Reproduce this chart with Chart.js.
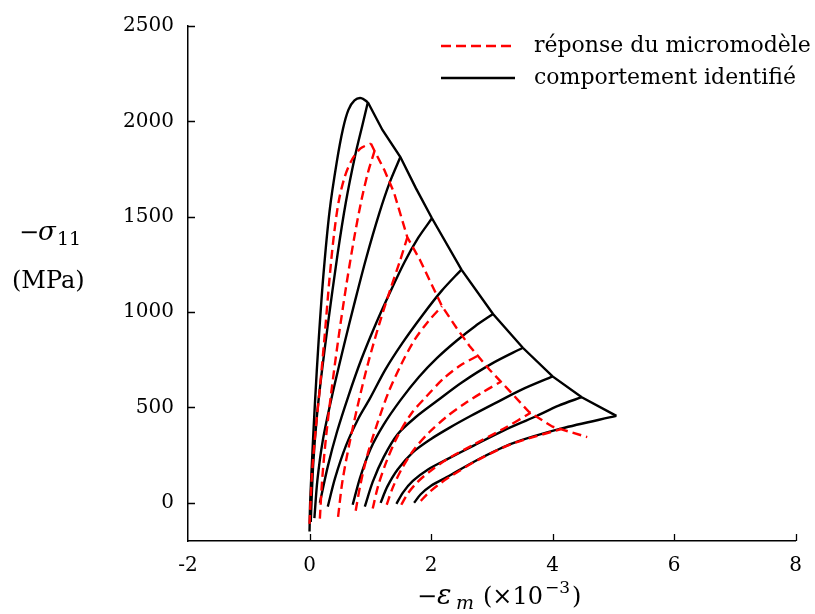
<!DOCTYPE html>
<html>
<head>
<meta charset="utf-8">
<script src="https://cdn.jsdelivr.net/npm/chart.js@4.4.0/dist/chart.umd.min.js"></script>
<style>
  body { margin: 0; background: #fff; }
  #wrap { width: 815px; height: 614px; }
</style>
</head>
<body>
<div id="wrap"><canvas id="chart"></canvas></div>
<script>
// Axis ticks
var xTickVals = [-2, 0, 2, 4, 6, 8];
var yTickVals = [0, 500, 1000, 1500, 2000, 2500];

// comportement identifié (black) : [strain x1e-3, stress MPa]
var idOuter = [[0.0,-150],[0.01,0],[0.05,280],[0.09,528],[0.15,850],[0.23,1200],[0.33,1530],[0.45,1790],[0.55,1960],[0.64,2060],[0.74,2110],[0.85,2122],[0.96,2100]];
var idEnvelope = [[0.96,2100],[1.2,1955],[1.495,1813],[1.75,1650],[2.015,1492],[2.5,1223],[3.02,990],[3.51,813],[4.0,663],[4.48,554],[5.05,456]];
var idCurve1 = [[0.02,-100],[0.06,200],[0.12,450],[0.2,680],[0.3,930],[0.46,1300],[0.6,1580],[0.75,1820],[0.87,1980],[0.96,2100]];
var idCurve2 = [[0.08,-80],[0.13,120],[0.22,330],[0.37,560],[0.57,830],[0.75,1060],[0.93,1280],[1.15,1520],[1.32,1680],[1.495,1813]];
var idCurve3 = [[0.17,0],[0.3,190],[0.45,370],[0.64,560],[0.85,750],[1.08,930],[1.32,1100],[1.56,1260],[1.79,1390],[2.015,1492]];
var idCurve4 = [[0.30,-20],[0.42,130],[0.6,300],[0.8,440],[0.99,545],[1.25,700],[1.53,839],[1.85,980],[2.17,1110],[2.5,1223]];
var idCurve5 = [[0.71,-10],[0.83,130],[1.0,280],[1.22,410],[1.5,540],[1.8,660],[2.1,760],[2.42,850],[2.72,925],[3.02,990]];
var idCurve6 = [[0.91,-20],[1.04,110],[1.22,240],[1.45,360],[1.75,450],[2.1,535],[2.5,630],[3.0,730],[3.51,813]];
var idCurve7 = [[1.17,0],[1.28,85],[1.45,175],[1.7,265],[2.0,335],[2.3,393],[2.65,455],[3.04,520],[3.5,595],[4.0,663]];
var idCurve8 = [[1.43,-5],[1.54,55],[1.7,115],[1.95,175],[2.26,228],[2.7,300],[3.2,380],[3.7,450],[4.1,510],[4.48,554]];
var idCurve9 = [[1.72,0],[1.83,45],[2.0,90],[2.26,135],[2.79,230],[3.34,312],[4.15,390],[5.05,456]];

// réponse du micromodèle (red dashed)
var mmOuter = [[0.0,-110],[0.04,150],[0.1,380],[0.17,600],[0.25,880],[0.33,1180],[0.4,1400],[0.48,1580],[0.58,1710],[0.7,1800],[0.84,1858],[1.01,1884]];
var mmEnvelope = [[1.01,1884],[1.07,1845],[1.23,1746],[1.39,1627],[1.61,1392],[1.82,1272],[2.18,1031],[2.42,917],[2.63,824],[2.96,699],[3.28,591],[3.61,477],[4.0,399],[4.57,345]];
var mmCurve1 = [[0.17,-83],[0.21,130],[0.27,340],[0.35,560],[0.47,850],[0.6,1130],[0.73,1380],[0.85,1580],[0.96,1730],[1.07,1845]];
var mmCurve2 = [[0.47,-73],[0.54,110],[0.65,300],[0.8,520],[0.97,740],[1.15,940],[1.33,1120],[1.48,1260],[1.61,1392]];
var mmCurve3 = [[0.76,-41],[0.84,100],[0.96,260],[1.12,420],[1.3,580],[1.5,720],[1.72,850],[1.95,950],[2.18,1031]];
var mmCurve4 = [[1.04,-30],[1.13,90],[1.27,220],[1.45,350],[1.68,470],[1.93,560],[2.2,650],[2.48,720],[2.77,771]];
var mmCurve5 = [[1.27,-10],[1.37,80],[1.52,180],[1.72,280],[1.97,370],[2.25,450],[2.55,520],[2.85,580],[3.15,635]];
var mmCurve6 = [[1.51,-10],[1.62,50],[1.78,110],[2.0,170],[2.26,228],[2.7,305],[3.2,390],[3.64,472]];
var mmCurve7 = [[1.83,10],[1.95,50],[2.1,90],[2.3,135],[2.79,228],[3.34,310],[4.13,386]];

var idSeries = [idOuter, idEnvelope, idCurve1, idCurve2, idCurve3, idCurve4, idCurve5, idCurve6, idCurve7, idCurve8, idCurve9];
var mmSeries = [mmOuter, mmEnvelope, mmCurve1, mmCurve2, mmCurve3, mmCurve4, mmCurve5, mmCurve6, mmCurve7];

function toPts(arr) {
  return arr.map(function(p) { return {x: p[0], y: p[1]}; });
}

var datasets = [];
mmSeries.forEach(function(s, i) {
  datasets.push({
    label: 'réponse du micromodèle',
    data: toPts(s),
    showLine: true,
    borderColor: '#ff0000',
    borderWidth: 2.4,
    borderDash: [9, 5],
    pointRadius: 0,
    tension: i == 1 ? 0 : 0.3
  });
});
idSeries.forEach(function(s, i) {
  datasets.push({
    label: 'comportement identifié',
    data: toPts(s),
    showLine: true,
    borderColor: '#000000',
    borderWidth: 2.4,
    pointRadius: 0,
    tension: i == 1 ? 0 : 0.3
  });
});

var SERIF = '"DejaVu Serif", serif';

// inward ticks, axis titles and legend
var decor = {
  id: 'decor',
  afterDraw: function(chart) {
    var ctx = chart.ctx, xs = chart.scales.x, ys = chart.scales.y, a = chart.chartArea;
    ctx.save();
    ctx.strokeStyle = '#000';
    ctx.lineWidth = 1.3;
    ctx.beginPath();
    yTickVals.forEach(function(v) {
      var py = Math.round(ys.getPixelForValue(v)) + 0.5;
      ctx.moveTo(a.left, py); ctx.lineTo(a.left + 7, py);
    });
    xTickVals.forEach(function(v) {
      if (v == xTickVals[0]) return;
      var px = Math.round(xs.getPixelForValue(v)) + 0.5;
      ctx.moveTo(px, a.bottom); ctx.lineTo(px, a.bottom - 7);
    });
    ctx.stroke();

    // y title
    ctx.fillStyle = '#000';
    ctx.textBaseline = 'alphabetic';
    ctx.textAlign = 'left';
    ctx.font = '24px ' + SERIF;
    ctx.fillText('\u2212', 19, 240);
    ctx.font = 'italic 26px ' + SERIF;
    ctx.fillText('\u03c3', 38, 240);
    ctx.font = '19px ' + SERIF;
    ctx.fillText('11', 57, 245);
    ctx.font = '24px ' + SERIF;
    ctx.fillText('(MPa)', 12, 288);

    // x title
    var x0 = 417, by = 604;
    ctx.font = '24px ' + SERIF;
    ctx.fillText('\u2212', x0, by);
    ctx.font = 'italic 27px ' + SERIF;
    ctx.fillText('\u03b5', x0 + 20, by);
    ctx.font = 'italic 19px ' + SERIF;
    ctx.fillText('m', x0 + 39, by + 5);
    ctx.font = '24px ' + SERIF;
    ctx.fillText('(\u00d710', x0 + 66, by);
    ctx.font = '17px ' + SERIF;
    ctx.fillText('\u22123', x0 + 128, by - 11);
    ctx.font = '24px ' + SERIF;
    ctx.fillText(')', x0 + 155, by);

    // legend
    ctx.lineWidth = 2.4;
    ctx.strokeStyle = '#ff0000';
    ctx.setLineDash([10, 5]);
    ctx.beginPath(); ctx.moveTo(441, 46); ctx.lineTo(514, 46); ctx.stroke();
    ctx.setLineDash([]);
    ctx.strokeStyle = '#000';
    ctx.beginPath(); ctx.moveTo(441, 78); ctx.lineTo(515, 78); ctx.stroke();
    ctx.font = '22px ' + SERIF;
    ctx.textBaseline = 'middle';
    ctx.fillText('réponse du micromodèle', 534, 46);
    ctx.fillText('comportement identifié', 534, 78);
    ctx.restore();
  }
};

var ctx = document.getElementById('chart').getContext('2d');
var chart = new Chart(ctx, {
  type: 'scatter',
  data: { datasets: datasets },
  options: {
    responsive: true,
    maintainAspectRatio: false,
    animation: false,
    layout: { padding: { left: 0, right: 12, top: 20, bottom: 0 } },
    plugins: { legend: { display: false }, tooltip: { enabled: false } },
    scales: {
      x: {
        type: 'linear', min: -2, max: 8,
        afterBuildTicks: function(s) { s.ticks = xTickVals.map(function(v) { return {value: v}; }); },
        afterFit: function(s) { s.height = 73; },
        grid: { display: false, drawTicks: false },
        border: { display: true, color: '#000', width: 1.5 },
        ticks: { color: '#000', padding: 13, font: { family: SERIF, size: 20 },
                 callback: function(v) { return String(v); } }
      },
      y: {
        type: 'linear', min: -200, max: 2500,
        afterBuildTicks: function(s) { s.ticks = yTickVals.map(function(v) { return {value: v}; }); },
        afterFit: function(s) { s.width = 188; },
        grid: { display: false, drawTicks: false },
        border: { display: true, color: '#000', width: 1.5 },
        ticks: { color: '#000', padding: 14, font: { family: SERIF, size: 20 },
                 callback: function(v) { return String(v); } }
      }
    }
  },
  plugins: [decor]
});
</script>
</body>
</html>
